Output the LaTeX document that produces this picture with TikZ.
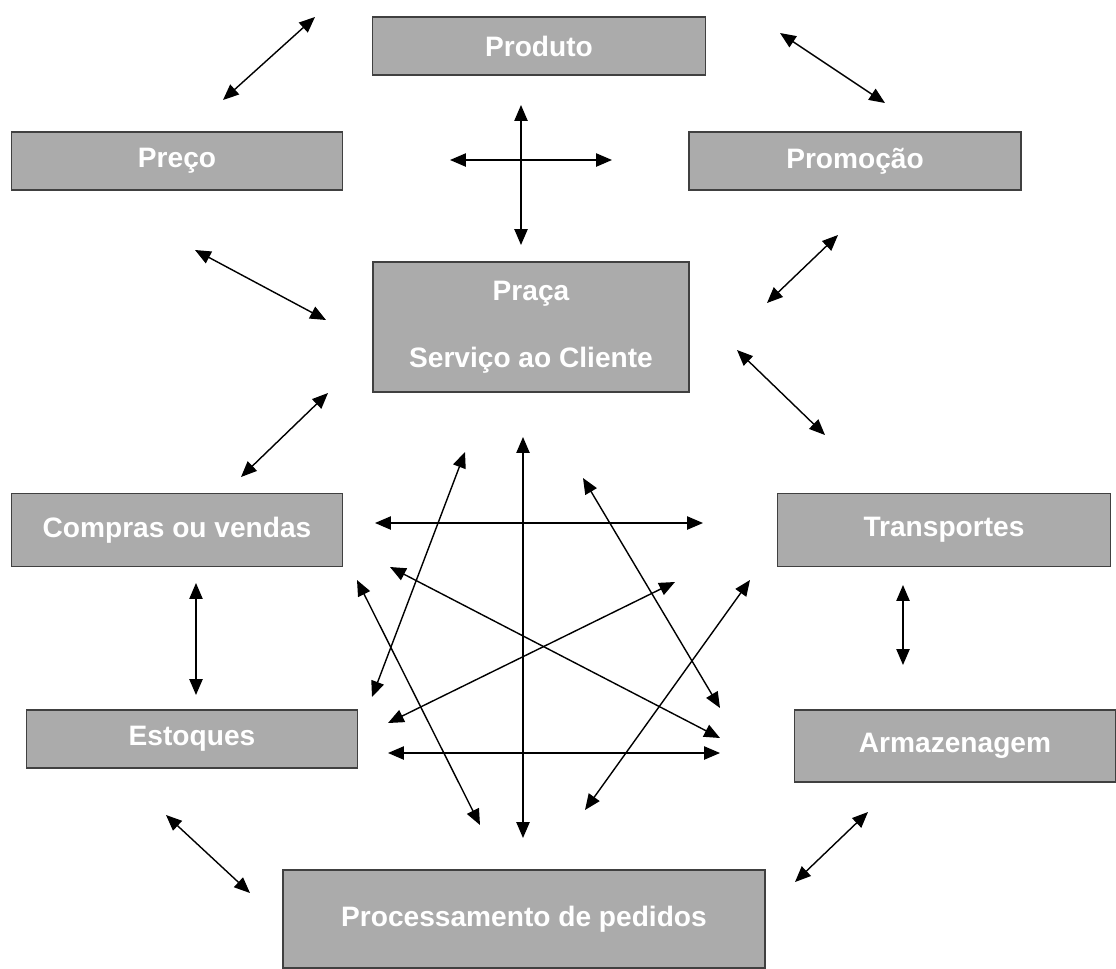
\documentclass[tikz,border=0pt]{standalone}
\usepackage{fontspec}
\setmainfont{Liberation Sans}
\usetikzlibrary{arrows.meta}
\tikzset{
  caixa/.style={draw=black!75, line width=1.1pt, fill=black!33, text=white,
    font=\fontsize{16}{18}\selectfont\bfseries, inner sep=0pt, align=center},
  dupla/.style={{Triangle[length=9pt,width=7.5pt]}-{Triangle[length=9pt,width=7.5pt]}, line width=0.8pt}
}
\begin{document}
\begin{tikzpicture}[x=0.02cm,y=-0.02cm]
\useasboundingbox (0,0) rectangle (1116,968);
% caixas
\node[caixa, minimum width=333*0.02cm, minimum height=58*0.02cm] (produto) at (539,46) {Produto};
\node[caixa, minimum width=331*0.02cm, minimum height=58*0.02cm] (preco) at (177,161) {Preço};
\node[caixa, minimum width=332*0.02cm, minimum height=58*0.02cm] (promocao) at (855,161) {Promoção};
\node[caixa, minimum width=316*0.02cm, minimum height=130*0.02cm] (praca) at (531,327) {Praça\\[20pt]Serviço ao Cliente};
\node[caixa, minimum width=331*0.02cm, minimum height=73*0.02cm] (compras) at (177,530) {Compras ou vendas};
\node[caixa, minimum width=333*0.02cm, minimum height=73*0.02cm] (transportes) at (944,530) {Transportes};
\node[caixa, minimum width=331*0.02cm, minimum height=58*0.02cm] (estoques) at (192,739) {Estoques};
\node[caixa, minimum width=321*0.02cm, minimum height=72*0.02cm] (armazenagem) at (955,746) {Armazenagem};
\node[caixa, minimum width=482*0.02cm, minimum height=98*0.02cm] (pedidos) at (524,919) {Processamento de pedidos};
% setas duplas
\foreach \n/\xa/\ya/\xb/\yb in {s1/223/100/315/17, s2/780/33/885/103, s3/450/160/612/160,
    s4/521/105/521/245, s5/195/250/326/320, s6/767/303/838/235, s7/241/477/328/393,
    s8/737/350/825/435, s9/196/583/196/695, s10/903/585/903/665, s11/166/815/250/893,
    s12/795/882/868/812, s13/375/523/703/523, s14/523/437/523/838, s15/388/753/720/753,
    s16/372/697/465/452, s17/583/478/720/708, s18/390/567/720/738, s19/388/723/675/582,
    s20/357/580/480/825, s21/750/580/585/810}
{
  \coordinate (\n-a) at (\xa,\ya);
  \coordinate (\n-b) at (\xb,\yb);
  \draw[dupla] (\n-a) -- (\n-b);
}
\end{tikzpicture}
\end{document}
